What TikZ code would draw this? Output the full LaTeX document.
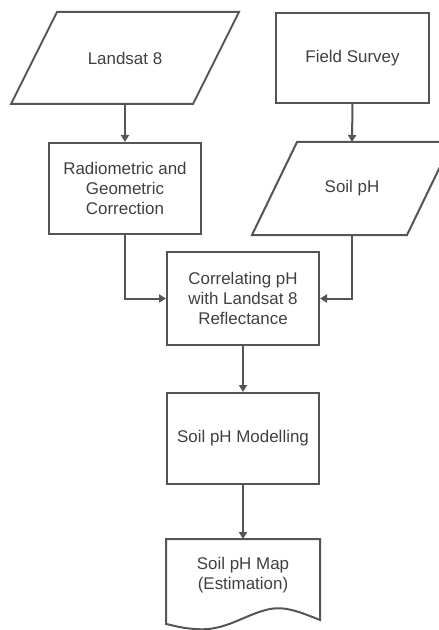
\documentclass[tikz,border=0pt]{standalone}
\usepackage{fontspec}
\setmainfont{Liberation Sans}
\usetikzlibrary{arrows.meta,calc}
\definecolor{linec}{HTML}{555555}
\definecolor{textc}{HTML}{404040}
\begin{document}
\begin{tikzpicture}[x=1bp,y=1bp,
  every node/.style={font=\fontsize{17}{20}\selectfont, text=textc, align=center, outer sep=1bp, inner sep=0pt},
  procbox/.style={draw=linec, line width=2bp, minimum width=152bp, minimum height=91bp},
  holder/.style={draw=none},
  shapeline/.style={draw=linec, line width=2bp, line join=miter},
  conn/.style={draw=linec, line width=2bp, -{Triangle[width=8bp,length=7bp]}}
]
\clip (0,0) rectangle (439,-630);
\fill[white] (0,0) rectangle (439,-630);

% Landsat 8 (parallelogram)
\node[holder, minimum width=226bp, minimum height=90bp] (land) at (125,-58) {Landsat 8};
\draw[shapeline] (land.south west) -- ($(land.north west)+(46,0)$) -- (land.north east) -- ($(land.south east)-(46,0)$) -- cycle;

% Field Survey
\node[procbox, minimum width=153bp, minimum height=90bp] (field) at (352.5,-58) {Field Survey};

% Radiometric
\node[procbox] (radio) at (125,-188.5) {Radiometric and\\Geometric\\Correction};

% Soil pH (parallelogram)
\node[holder, minimum width=198bp, minimum height=91bp] (soil) at (352,-188.5) {Soil pH};
\draw[shapeline] (soil.south west) -- ($(soil.north west)+(45,0)$) -- (soil.north east) -- ($(soil.south east)-(45,0)$) -- cycle;

% Correlating
\node[procbox, minimum height=93bp] (corr) at (243,-298.5) {Correlating pH\\with Landsat 8\\Reflectance};

% Modelling
\node[procbox] (model) at (243,-438.5) {Soil pH Modelling};

% Map (document)
\node[holder, minimum width=152bp, minimum height=70bp] (map) at (243,-575) {Soil pH Map\\(Estimation)};
\draw[shapeline] ($(map.north west)+(0,-22)$) -- (map.north west) -- (map.north east) -- ($(map.north east)+(0,-81)$)
  .. controls (300,-612) and (285,-606) .. (270,-609)
  .. controls (245,-614) and (225,-632) .. (195,-629)
  .. controls (180,-628) and (172,-625) .. ($(map.north west)+(0,-85)$) -- cycle;

% connectors
\draw[conn] (land.south) -- (radio.north);
\draw[conn] (field.south) -- (soil.north);
\draw[conn] (radio.south) |- (corr.west);
\draw[conn] (soil.south) |- (corr.east);
\draw[conn] (corr.south) -- (model.north);
\draw[conn] (model.south) -- (map.north);
\end{tikzpicture}
\end{document}
